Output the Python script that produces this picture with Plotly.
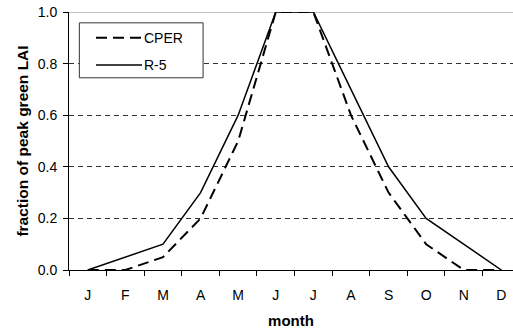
import plotly.graph_objects as go

months = ["J", "F", "M", "A", "M", "J", "J", "A", "S", "O", "N", "D"]
cper = [0, 0, 0.05, 0.2, 0.5, 1.0, 1.0, 0.6, 0.3, 0.1, 0, 0]
r5 = [0, 0.05, 0.1, 0.3, 0.6, 1.0, 1.0, 0.7, 0.4, 0.2, 0.1, 0]
xpos = list(range(len(months)))

font = "Liberation Sans, Arial, sans-serif"
DASH = "11px,6px"

fig = go.Figure()
fig.add_trace(go.Scatter(x=xpos, y=cper, mode="lines", name="CPER",
                         line=dict(color="black", width=2, dash=DASH)))
fig.add_trace(go.Scatter(x=xpos, y=r5, mode="lines", name="R-5",
                         line=dict(color="black", width=1.5)))

fig.update_layout(
    width=513, height=336,
    margin=dict(l=69, r=0, t=12, b=66),
    paper_bgcolor="white", plot_bgcolor="white",
    font=dict(family=font, size=14, color="black"),
    showlegend=False,
    xaxis=dict(
        range=[-0.5, 11.31], tickmode="array", tickvals=xpos, ticktext=months,
        showgrid=False, zeroline=False, showline=True, linecolor="black", linewidth=1,
        ticks="", ticklabelstandoff=12,
        minor=dict(tickmode="linear", tick0=-0.5, dtick=1, ticks="outside",
                   ticklen=5, tickcolor="black", showgrid=False),
        title=dict(text="<b>month</b>", font=dict(size=15), standoff=13),
    ),
    yaxis=dict(
        range=[0, 1.0], tickmode="array", tickvals=[0, 0.2, 0.4, 0.6, 0.8, 1.0],
        ticktext=["0.0", "0.2", "0.4", "0.6", "0.8", "1.0"],
        showgrid=True, gridcolor="#333333", griddash="5px,4px", gridwidth=1,
        zeroline=False, showline=True, linecolor="black", linewidth=1,
        ticks="outside", ticklen=5, tickcolor="black", ticklabelstandoff=3,
        title=dict(text="<b>fraction of peak green LAI</b>", font=dict(size=15.5), standoff=5),
    ),
)
fig.add_shape(type="line", xref="paper", yref="y", x0=0, x1=1, y0=1.0, y1=1.0,
              line=dict(color="#888888", width=1), layer="below")

# manual legend (box, samples, labels)
fig.add_shape(type="rect", xref="paper", yref="paper", x0=0.0233, x1=0.302,
              y0=0.745, y1=0.958, line=dict(color="#333333", width=1), fillcolor="white")
legend_items = [("CPER", DASH, 2, 0.900), ("R-5", "solid", 1.5, 0.795)]
for name, dash, w, ly in legend_items:
    fig.add_shape(type="line", xref="paper", yref="paper", x0=0.0608, x1=0.1644,
                  y0=ly, y1=ly, line=dict(color="black", width=w, dash=dash))
    fig.add_annotation(xref="paper", yref="paper", x=0.1644, y=ly, text=name,
                       showarrow=False, xanchor="left", yanchor="middle",
                       xshift=0, font=dict(size=14))

fig.write_html("out.html")
